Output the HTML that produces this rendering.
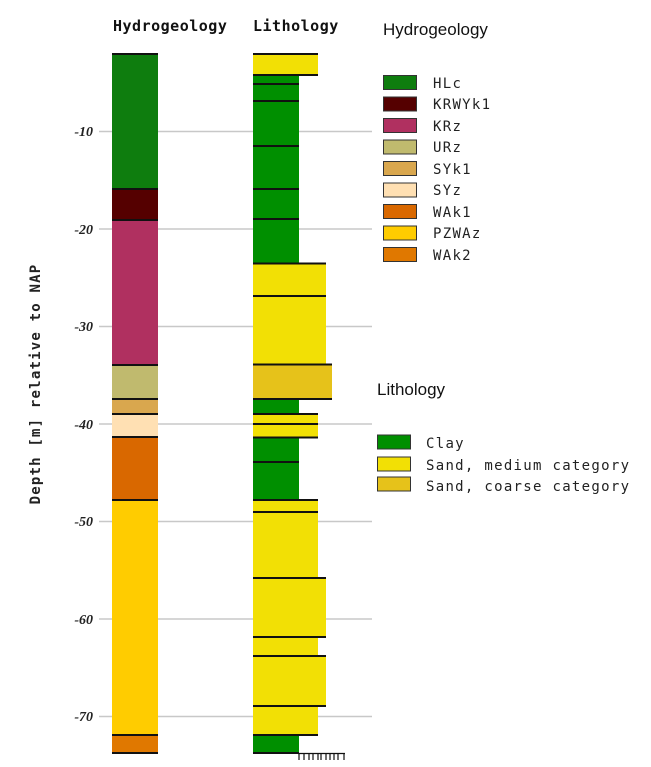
<!DOCTYPE html>
<html><head><style>body{margin:0;background:#fff}svg{display:block}</style></head><body>
<svg width="651" height="767" xmlns="http://www.w3.org/2000/svg">
<g stroke="#c8c8c8" stroke-width="1.5">
<line x1="99" x2="372" y1="131.5" y2="131.5"/><line x1="99" x2="372" y1="229" y2="229"/>
<line x1="99" x2="372" y1="326.5" y2="326.5"/><line x1="99" x2="372" y1="424" y2="424"/>
<line x1="99" x2="372" y1="521.5" y2="521.5"/><line x1="99" x2="372" y1="619" y2="619"/>
<line x1="99" x2="372" y1="716.5" y2="716.5"/>
</g>
<g font-family="Liberation Serif, serif" font-weight="bold" font-style="italic" font-size="14" text-anchor="end" fill="#222">
<text x="93" y="136">-10</text><text x="93" y="234">-20</text><text x="93" y="331">-30</text>
<text x="93" y="429">-40</text><text x="93" y="526">-50</text><text x="93" y="624">-60</text><text x="93" y="721">-70</text>
</g>
<text transform="translate(40,384) rotate(-90)" text-anchor="middle" font-family="DejaVu Sans Mono, monospace" font-weight="bold" font-size="14" letter-spacing="1.2" fill="#222">Depth [m] relative to NAP</text>
<g font-family="DejaVu Sans Mono, monospace" font-weight="bold" font-size="15" letter-spacing="0.5" fill="#111">
<text x="113" y="31">Hydrogeology</text><text x="253" y="31">Lithology</text>
</g>
<g stroke="none">
<rect x="112" y="54" width="46" height="135" fill="#0e7d0e"/>
<rect x="112" y="189" width="46" height="31" fill="#550000"/>
<rect x="112" y="220" width="46" height="145" fill="#b03060"/>
<rect x="112" y="365" width="46" height="34" fill="#c0ba6e"/>
<rect x="112" y="399" width="46" height="15" fill="#d9a74e"/>
<rect x="112" y="414" width="46" height="23" fill="#ffe0b3"/>
<rect x="112" y="437" width="46" height="63" fill="#d96800"/>
<rect x="112" y="500" width="46" height="235" fill="#ffcc00"/>
<rect x="112" y="735" width="46" height="18" fill="#e07800"/>
<rect x="253" y="54" width="65" height="21" fill="#f2e005"/>
<rect x="253" y="75" width="46" height="188.5" fill="#008f00"/>
<rect x="253" y="263.5" width="73" height="101" fill="#f2e005"/>
<rect x="253" y="364.5" width="79" height="34.5" fill="#e6c21a"/>
<rect x="253" y="399" width="46" height="15" fill="#008f00"/>
<rect x="253" y="414" width="65" height="23.5" fill="#f2e005"/>
<rect x="253" y="437.5" width="46" height="62.5" fill="#008f00"/>
<rect x="253" y="500" width="65" height="78" fill="#f2e005"/>
<rect x="253" y="578" width="73" height="59" fill="#f2e005"/>
<rect x="253" y="637" width="65" height="19" fill="#f2e005"/>
<rect x="253" y="656" width="73" height="50" fill="#f2e005"/>
<rect x="253" y="706" width="65" height="29" fill="#f2e005"/>
<rect x="253" y="735" width="46" height="18" fill="#008f00"/>
</g>
<g stroke="#111" stroke-width="2">
<line x1="112" x2="158" y1="54" y2="54"/><line x1="112" x2="158" y1="189" y2="189"/>
<line x1="112" x2="158" y1="220" y2="220"/><line x1="112" x2="158" y1="365" y2="365"/>
<line x1="112" x2="158" y1="399" y2="399"/><line x1="112" x2="158" y1="414" y2="414"/>
<line x1="112" x2="158" y1="437" y2="437"/><line x1="112" x2="158" y1="500" y2="500"/>
<line x1="112" x2="158" y1="735" y2="735"/><line x1="112" x2="158" y1="753" y2="753"/>
<line x1="253" x2="318" y1="54" y2="54"/><line x1="253" x2="318" y1="75" y2="75"/>
<line x1="253" x2="299" y1="84" y2="84"/><line x1="253" x2="299" y1="101" y2="101"/>
<line x1="253" x2="299" y1="146" y2="146"/><line x1="253" x2="299" y1="189" y2="189"/>
<line x1="253" x2="299" y1="219" y2="219"/><line x1="253" x2="326" y1="263.5" y2="263.5"/>
<line x1="253" x2="326" y1="296" y2="296"/><line x1="253" x2="332" y1="364.5" y2="364.5"/>
<line x1="253" x2="332" y1="399" y2="399"/><line x1="253" x2="318" y1="414" y2="414"/>
<line x1="253" x2="318" y1="424" y2="424"/><line x1="253" x2="318" y1="437.5" y2="437.5"/>
<line x1="253" x2="299" y1="462" y2="462"/><line x1="253" x2="318" y1="500" y2="500"/>
<line x1="253" x2="318" y1="512" y2="512"/><line x1="253" x2="326" y1="578" y2="578"/>
<line x1="253" x2="326" y1="637" y2="637"/><line x1="253" x2="326" y1="656" y2="656"/>
<line x1="253" x2="326" y1="706" y2="706"/><line x1="253" x2="318" y1="735" y2="735"/>
<line x1="253" x2="299" y1="753" y2="753"/>
</g>
<g stroke="#111" stroke-width="1.2">
<line x1="298" x2="345" y1="753.5" y2="753.5"/>
<line x1="299" x2="299" y1="753" y2="760"/><line x1="304" x2="304" y1="753" y2="760"/>
<line x1="309" x2="309" y1="753" y2="760"/><line x1="313" x2="313" y1="753" y2="760"/>
<line x1="318" x2="318" y1="753" y2="760"/><line x1="321" x2="321" y1="753" y2="760"/>
<line x1="326" x2="326" y1="753" y2="760"/><line x1="330" x2="330" y1="753" y2="760"/>
<line x1="334" x2="334" y1="753" y2="760"/><line x1="338" x2="338" y1="753" y2="760"/>
<line x1="344" x2="344" y1="753" y2="760"/>
</g>
<g font-family="Liberation Sans, sans-serif" font-size="17" fill="#111">
<text x="383" y="35">Hydrogeology</text><text x="377" y="395">Lithology</text>
</g>
<g stroke="#333" stroke-width="1">
<rect x="383.5" y="75.5" width="33" height="14" fill="#0e7d0e"/>
<rect x="383.5" y="97" width="33" height="14" fill="#550000"/>
<rect x="383.5" y="118.5" width="33" height="14" fill="#b03060"/>
<rect x="383.5" y="140" width="33" height="14" fill="#c0ba6e"/>
<rect x="383.5" y="161.5" width="33" height="14" fill="#d9a74e"/>
<rect x="383.5" y="183" width="33" height="14" fill="#ffe0b3"/>
<rect x="383.5" y="204.5" width="33" height="14" fill="#d96800"/>
<rect x="383.5" y="226" width="33" height="14" fill="#ffcc00"/>
<rect x="383.5" y="247.5" width="33" height="14" fill="#e07800"/>
<rect x="377.5" y="435" width="33" height="14" fill="#008f00"/>
<rect x="377.5" y="457" width="33" height="14" fill="#f2e005"/>
<rect x="377.5" y="477" width="33" height="14" fill="#e6c21a"/>
</g>
<g font-family="DejaVu Sans Mono, monospace" font-size="14" letter-spacing="1.3" fill="#222">
<text x="433" y="88">HLc</text><text x="433" y="109">KRWYk1</text><text x="433" y="131">KRz</text>
<text x="433" y="152">URz</text><text x="433" y="174">SYk1</text><text x="433" y="195">SYz</text>
<text x="433" y="217">WAk1</text><text x="433" y="238">PZWAz</text><text x="433" y="260">WAk2</text>
<text x="426" y="448">Clay</text><text x="426" y="470">Sand, medium category</text><text x="426" y="491">Sand, coarse category</text>
</g>
</svg>
</body></html>
